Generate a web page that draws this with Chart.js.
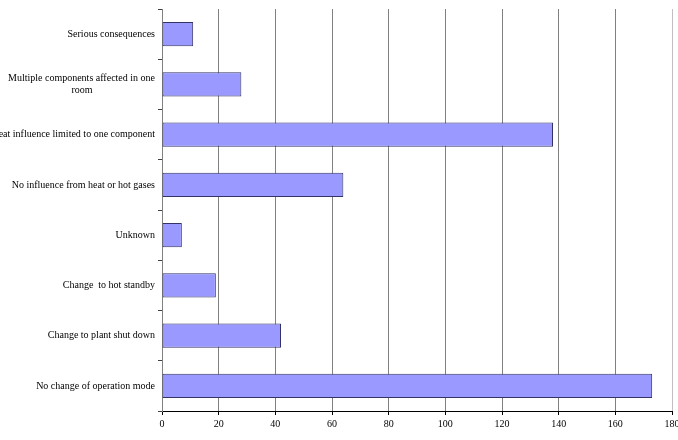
<!DOCTYPE html>
<html>
<head>
<meta charset="utf-8">
<script src="https://cdn.jsdelivr.net/npm/chart.js@4/dist/chart.umd.min.js"></script>
<style>
  html, body { margin: 0; padding: 0; background: #fff; }
  #wrap { width: 678px; height: 440px; }
</style>
</head>
<body>
<div id="wrap"><canvas id="chart"></canvas></div>
<script>
const categories = [
    "Serious consequences",
    ["Multiple components affected in one", "room"],
    "Heat influence limited to one component",
    "No influence from heat or hot gases",
    "Unknown",
    "Change  to hot standby",
    "Change to plant shut down",
    "No change of operation mode"
];
const counts = [11, 28, 138, 64, 7, 19, 42, 173];
const xTicks = [0, 20, 40, 60, 80, 100, 120, 140, 160, 180];

const font = { family: "'Liberation Serif', 'Times New Roman', serif", size: 10 };

// pad shorter lines of a wrapped label so they look centred under the longest one
const measureCtx = document.createElement('canvas').getContext('2d');
measureCtx.font = font.size + "px " + font.family;
function centreLines(label) {
    if (!Array.isArray(label)) return label;
    const widths = label.map(l => measureCtx.measureText(l).width);
    const maxW = Math.max(...widths);
    const space = measureCtx.measureText(' ').width;
    return label.map((l, i) => l + ' '.repeat(Math.round((maxW - widths[i]) / 2 / space)));
}

const data = {
    labels: categories,
    datasets: [{
        data: counts,
        backgroundColor: '#9999FF',
        borderColor: '#333366',
        borderWidth: 1,
        borderSkipped: false,
        barPercentage: 0.48,
        categoryPercentage: 1
    }]
};

const config = {
    type: 'bar',
    data: data,
    options: {
        indexAxis: 'y',
        responsive: true,
        maintainAspectRatio: false,
        animation: false,
        layout: { padding: { left: 0, right: 6, top: 7, bottom: 0 } },
        plugins: {
            legend: { display: false },
            tooltip: { enabled: false }
        },
        scales: {
            x: {
                min: 0,
                max: 180,
                afterBuildTicks: (scale) => {
                    scale.ticks = xTicks.map(v => ({ value: v }));
                },
                afterFit: (scale) => {
                    scale.height = 29;
                    scale.paddingLeft = 0;
                    scale.paddingRight = 0;
                },
                grid: {
                    color: (ctx) => ctx.index === xTicks.length - 1 ? '#c0c0c0' : '#808080',
                    tickColor: '#000',
                    tickLength: 4,
                    lineWidth: 1
                },
                border: { color: '#000', width: 1 },
                ticks: { color: '#000', font: font, padding: 3, maxRotation: 0 }
            },
            y: {
                afterFit: (scale) => {
                    scale.width = 162;
                },
                grid: {
                    drawOnChartArea: false,
                    tickLength: 4,
                    tickColor: '#404040'
                },
                border: { color: '#808080', width: 1 },
                ticks: {
                    color: '#000',
                    font: font,
                    padding: 3,
                    autoSkip: false,
                    callback: function (value) {
                        return centreLines(this.getLabelForValue(value));
                    }
                }
            }
        }
    }
};

const myChart = new Chart(document.getElementById('chart'), config);
</script>
</body>
</html>
